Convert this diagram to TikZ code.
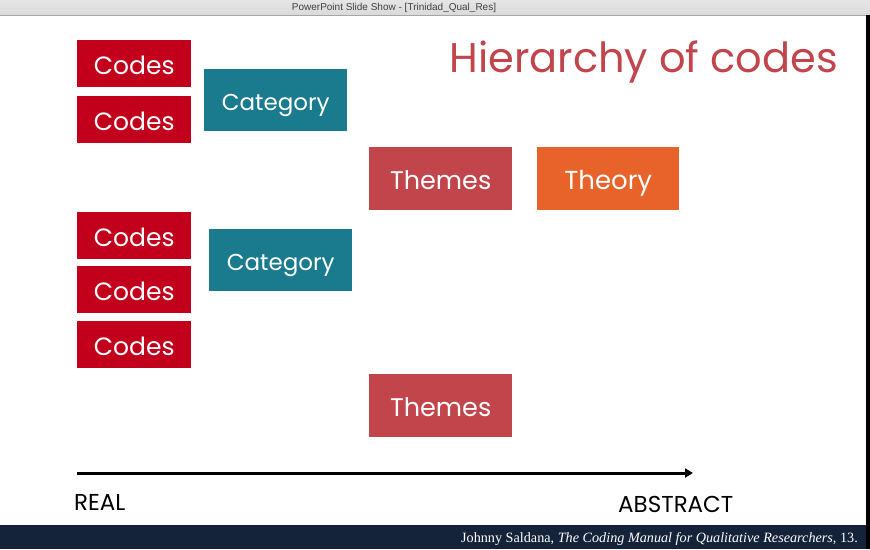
\documentclass[tikz,border=0pt]{standalone}
\usepackage{fontspec}
\setmainfont{Poppins}
\newfontfamily\barfont{Liberation Sans}
\newfontfamily\citefont{Liberation Serif}
\usetikzlibrary{arrows.meta}
\definecolor{codered}{HTML}{C2001B}
\definecolor{catteal}{HTML}{1A7A8E}
\definecolor{themered}{HTML}{C1454B}
\definecolor{theoryorange}{HTML}{E8632A}
\definecolor{navy}{HTML}{14233A}
\definecolor{bargray}{HTML}{DADADA}
\tikzset{
  box/.style={minimum width=114pt, minimum height=47pt, inner sep=0pt, text=white,
              text height=21pt, text depth=0pt,
              font=\fontsize{25}{27}\selectfont, anchor=north west},
  codebox/.style={box, fill=codered},
  catbox/.style={box, fill=catteal, minimum width=143pt, minimum height=62pt,
                 text height=20pt, font=\fontsize{23}{25}\selectfont},
  themebox/.style={box, fill=themered, minimum width=143pt, minimum height=63pt,
                   font=\fontsize{25.5}{27}\selectfont},
  theorybox/.style={box, fill=theoryorange, minimum width=142pt, minimum height=63pt,
                    font=\fontsize{26}{28}\selectfont},
  axislabel/.style={font=\fontsize{23}{25}\selectfont, inner sep=0pt, anchor=base west}
}
\begin{document}
\begin{tikzpicture}[x=1pt,y=-1pt]
  \useasboundingbox (0,0) rectangle (870,549);
  % window frame
  \fill[white] (0,0) rectangle (870,549);
  \shade[top color=bargray!70, bottom color=bargray] (0,0) rectangle (870,15);
  \draw[gray!70, line width=0.6pt] (0,15) -- (866,15);
  \node[font=\barfont\fontsize{10}{11}\selectfont, text=black!75] (wintitle) at (394,7.5) {PowerPoint Slide Show - [Trinidad\_Qual\_Res]};
  \fill[black] (866,15) rectangle (870,549);
  % citation strip
  \fill[navy] (0,525) rectangle (866,549);
  \node[font=\citefont\fontsize{14.2}{16}\selectfont, text=white, anchor=base east, inner sep=0pt] (cite) at (858,542)
    {Johnny Saldana, \textit{The Coding Manual for Qualitative Researchers}, 13.};
  % heading
  \node[font=\fontsize{41.5}{44}\selectfont, text=themered, anchor=base east, inner sep=0pt] (heading) at (838,72) {Hierarchy of codes};
  % codes
  \node[codebox] (c1) at (77,40) {Codes};
  \node[codebox] (c2) at (77,96) {Codes};
  \node[codebox] (c3) at (77,212) {Codes};
  \node[codebox] (c4) at (77,266) {Codes};
  \node[codebox] (c5) at (77,321) {Codes};
  % categories
  \node[catbox] (cat1) at (204,69) {Category};
  \node[catbox] (cat2) at (209,229) {Category};
  % themes and theory
  \node[themebox] (th1) at (369,147) {Themes};
  \node[theorybox] (theory) at (537,147) {Theory};
  \node[themebox] (th2) at (369,374) {Themes};
  % real -> abstract axis
  \coordinate (axisstart) at (77,473);
  \coordinate (axisend) at (693,473);
  \draw[line width=3pt, -{Triangle[length=8pt,width=9pt]}] (axisstart) -- (axisend);
  \node[axislabel] (real) at (74,510) {REAL};
  \node[axislabel] (abstract) at (618,512) {ABSTRACT};
\end{tikzpicture}
\end{document}
